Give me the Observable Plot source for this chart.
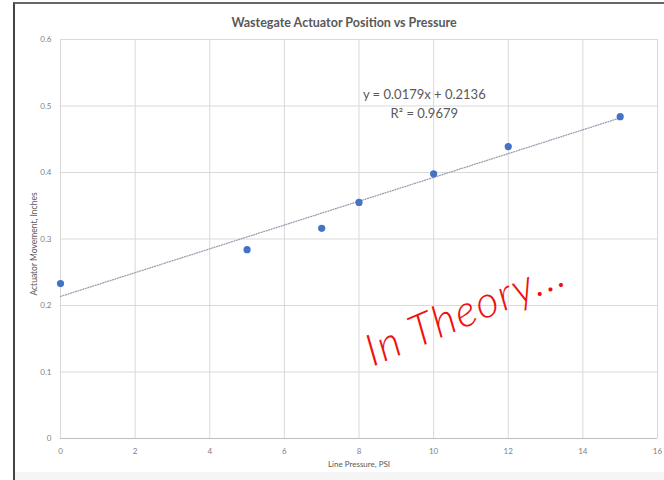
<!DOCTYPE html>
<html>
<head>
<meta charset="utf-8">
<script src="https://cdn.jsdelivr.net/npm/d3@7"></script>
<script src="https://cdn.jsdelivr.net/npm/@observablehq/plot@0.6"></script>
<style>
  html, body { margin: 0; padding: 0; background: #fff; }
  #wrap { position: relative; width: 664px; height: 480px; overflow: hidden; }
  #band { position: absolute; left: 15px; top: 472px; width: 649px; height: 8px; background: #f5f5f5; }
  #frame { position: absolute; left: 13px; top: 2px; width: 660px; height: 490px;
           border-left: 2px solid #444; border-top: 2px solid #666; pointer-events: none; }
  .note text { letter-spacing: 1.5px; }
</style>
</head>
<body>
<div id="wrap"><div id="band"></div><div id="frame"></div></div>
<script>
// Data
const pressure = [0, 5, 7, 8, 10, 12, 15];
const movement = [0.233, 0.284, 0.316, 0.355, 0.398, 0.439, 0.484];
const slope = 0.0179;
const intercept = 0.2136;
const trendX = [0, 15];
const xTicks = [0, 2, 4, 6, 8, 10, 12, 14, 16];
const yTicks = [0, 0.1, 0.2, 0.3, 0.4, 0.5, 0.6];
const yTickLabels = ["0", "0.1", "0.2", "0.3", "0.4", "0.5", "0.6"];
const title = "Wastegate Actuator Position vs Pressure";
const xTitle = "Line Pressure, PSI";
const yTitle = "Actuator Movement, Inches";
const equationLines = ["y = 0.0179x + 0.2136", "R² = 0.9679"];
const equationPos = {x: 9.75, y: 0.505};
const noteText = "In Theory...";
const notePos = {x: 10.85, y: 0.19};

const points = pressure.map((p, i) => ({p, m: movement[i]}));
const trend = trendX.map(x => ({p: x, m: slope * x + intercept}));

const font = "Lato, 'Open Sans', sans-serif";
const gray = "#595959";

const chart = Plot.plot({
  width: 664,
  height: 480,
  marginLeft: 60,
  marginRight: 7,
  marginTop: 39,
  marginBottom: 42,
  style: {fontFamily: font, background: "transparent", color: gray},
  x: {domain: [0, 16], ticks: xTicks, tickSize: 0, tickPadding: 10, label: null},
  y: {domain: [0, 0.6], ticks: yTicks, tickSize: 0, tickPadding: 8, label: null,
      tickFormat: d => yTickLabels[yTicks.indexOf(d)]},
  marks: [
    Plot.gridX(xTicks, {stroke: "#d9d9d9", strokeOpacity: 1, strokeWidth: 1}),
    Plot.gridY(yTicks, {stroke: "#d9d9d9", strokeOpacity: 1, strokeWidth: 1}),
    Plot.ruleY([0], {stroke: "#bfbfbf"}),
    Plot.axisX({ticks: xTicks, tickSize: 0, tickPadding: 10, fontSize: 8, fill: "#7f7f7f", label: null}),
    Plot.axisY({ticks: yTicks, tickSize: 0, tickPadding: 9, fontSize: 8, fill: "#7f7f7f", label: null,
                tickFormat: d => yTickLabels[yTicks.indexOf(d)]}),
    Plot.line(trend, {x: "p", y: "m", stroke: "#97a0ae", strokeWidth: 1.3, strokeDasharray: "1,1.6"}),
    Plot.dot(points, {x: "p", y: "m", r: 3.6, fill: "#4472c4", stroke: "none"}),
    Plot.text([title], {frameAnchor: "top", dx: -15, dy: -21, fontSize: 12.5, fontWeight: "bold", fill: gray}),
    Plot.text([xTitle], {frameAnchor: "bottom", dy: 28, fontSize: 8, fill: gray}),
    Plot.text([yTitle], {frameAnchor: "left", dx: -26, dy: 5, rotate: -90, textAnchor: "middle", fontSize: 8.5, fill: gray}),
    Plot.text([equationLines.join("\n")], {x: () => equationPos.x, y: () => equationPos.y,
      fontSize: 13, fill: gray, lineHeight: 1.4, textAnchor: "middle"}),
    Plot.text([noteText], {x: () => notePos.x, y: () => notePos.y, rotate: -23,
      fontSize: 44, fill: "#ee1111", fontStyle: "italic", fontWeight: 300, className: "note",
      fontFamily: "Lato, 'Open Sans', sans-serif", textAnchor: "middle"})
  ]
});
document.getElementById("wrap").prepend(chart);
</script>
</body>
</html>
